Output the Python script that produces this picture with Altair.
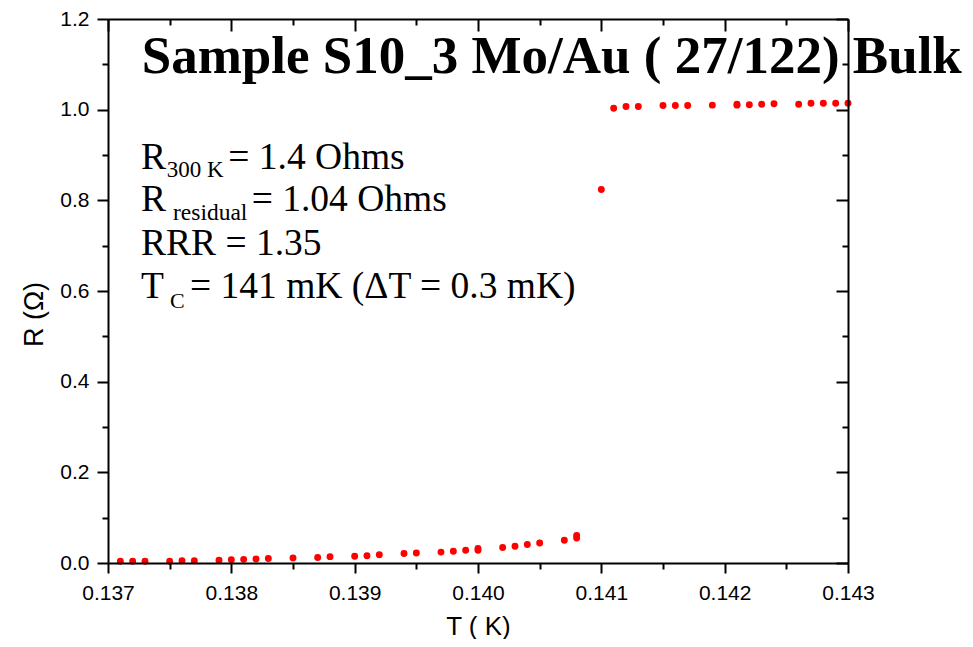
import altair as alt
import pandas as pd

# ---- data ----
T_K = [0.1371, 0.1372, 0.1373, 0.1375, 0.1376, 0.1377, 0.1379, 0.1380, 0.1381,
       0.1382, 0.1383, 0.1385, 0.1387, 0.1388, 0.1390, 0.1391, 0.1392, 0.1394,
       0.1395, 0.1397, 0.1398, 0.1399, 0.1400, 0.1400, 0.1402, 0.1403, 0.1404,
       0.1405, 0.1407, 0.1408, 0.1408, 0.1410, 0.1411, 0.1412, 0.1413, 0.1415,
       0.1416, 0.1417, 0.1419, 0.1421, 0.1421, 0.1422, 0.1423, 0.1424, 0.1426,
       0.1427, 0.1428, 0.1429, 0.1430]
R_OHM = [0.004, 0.004, 0.004, 0.004, 0.005, 0.005, 0.006, 0.007, 0.008,
         0.009, 0.010, 0.011, 0.012, 0.014, 0.015, 0.016, 0.018, 0.021,
         0.022, 0.024, 0.026, 0.028, 0.028, 0.032, 0.034, 0.037, 0.041,
         0.044, 0.050, 0.055, 0.061, 0.824, 1.003, 1.007, 1.007, 1.009,
         1.009, 1.009, 1.010, 1.010, 1.012, 1.011, 1.012, 1.013, 1.012,
         1.014, 1.014, 1.014, 1.014]

X_MAJOR = [0.137, 0.138, 0.139, 0.140, 0.141, 0.142, 0.143]
X_MINOR = [0.1375, 0.1385, 0.1395, 0.1405, 0.1415, 0.1425]
Y_MAJOR = [0.0, 0.2, 0.4, 0.6, 0.8, 1.0, 1.2]
Y_MINOR = [0.1, 0.3, 0.5, 0.7, 0.9, 1.1]

TITLE = "Sample S10_3 Mo/Au ( 27/122) Bulk"
ANNOT_TEXT = ["R", "300 K", "= 1.4 Ohms",
              "R", "residual", "= 1.04 Ohms",
              "RRR = 1.35",
              "T", "C", "= 141 mK (\u0394T = 0.3 mK)"]
ANNOT_X = [33, 58.7, 120.3, 33, 65, 143.7, 33, 33, 62, 82]
ANNOT_Y = [150.3, 157.7, 150.3, 191.7, 200.5, 191.7, 236, 279.3, 289, 279.3]
ANNOT_SIZE = [37.5, 23, 37.5, 37.5, 23.5, 37.5, 37.5, 37.5, 22, 37.5]

W, H = 740, 544
SANS = "Liberation Sans"
SERIF = "Liberation Serif"

df = pd.DataFrame({"T": T_K, "R": R_OHM})
xs = alt.Scale(domain=[0.137, 0.143], nice=False, zero=False)
ys = alt.Scale(domain=[0.0, 1.2], nice=False, zero=False)

common = dict(domainColor="black", domainWidth=2, tickColor="black", tickWidth=2,
              grid=False, zindex=1)


def axis_layer(xaxis, yaxis, visible=False):
    m = alt.Chart(df).mark_circle(size=48, color="#ff0000", opacity=1 if visible else 0)
    return m.encode(
        x=alt.X("T:Q", scale=xs, axis=xaxis),
        y=alt.Y("R:Q", scale=ys, axis=yaxis),
    )


x_main = alt.Axis(orient="bottom", values=X_MAJOR, format=".3f", tickSize=10,
                  labelFont=SANS, labelFontSize=21, labelPadding=9, labelColor="black",
                  labelFlush=False, labelOverlap=False,
                  title="T ( K)", titleFont=SANS, titleFontSize=26,
                  titleFontWeight="normal", titleColor="black",
                  titleY=71, titleBaseline="alphabetic", **common)
y_main = alt.Axis(orient="left", values=Y_MAJOR, format=".1f", tickSize=11,
                  labelFont=SANS, labelFontSize=21, labelPadding=8, labelColor="black",
                  labelFlush=False, labelOverlap=False,
                  title="R (\u03a9)", titleFont=SANS, titleFontSize=27,
                  titleFontWeight="normal", titleColor="black",
                  titleX=-66, titleY=295, titleAngle=270, titleAlign="center",
                  titleBaseline="alphabetic", **common)

x_minor_b = alt.Axis(orient="bottom", values=X_MINOR, tickSize=6, labels=False,
                     domain=False, title="", **common)
y_minor_l = alt.Axis(orient="left", values=Y_MINOR, tickSize=6, labels=False,
                     domain=False, title="", **common)

x_top_major = alt.Axis(orient="bottom", offset=-H, values=X_MAJOR, tickSize=12,
                       labels=False, title="", **common)
y_right_major = alt.Axis(orient="left", offset=-W, values=Y_MAJOR, tickSize=12,
                         labels=False, title="", **common)
x_top_minor = alt.Axis(orient="bottom", offset=-H, values=X_MINOR, tickSize=6,
                       labels=False, domain=False, title="", **common)
y_right_minor = alt.Axis(orient="left", offset=-W, values=Y_MINOR, tickSize=6,
                         labels=False, domain=False, title="", **common)

layers = [
    axis_layer(x_minor_b, y_minor_l),
    axis_layer(x_top_major, y_right_major),
    axis_layer(x_top_minor, y_right_minor),
    axis_layer(x_main, y_main, visible=True),
]

one = pd.DataFrame({"k": [0]})
layers.append(
    alt.Chart(one).mark_text(text=TITLE, font=SERIF, fontSize=53, fontWeight="bold",
                             align="left", baseline="alphabetic", color="black")
    .encode(x=alt.value(33.7), y=alt.value(53.5))
)
for txt, px, py, fs in zip(ANNOT_TEXT, ANNOT_X, ANNOT_Y, ANNOT_SIZE):
    layers.append(
        alt.Chart(one).mark_text(text=txt, font=SERIF, fontSize=fs, fontWeight="normal",
                                 align="left", baseline="alphabetic", color="black")
        .encode(x=alt.value(px), y=alt.value(py))
    )

chart = (
    alt.layer(*layers)
    .resolve_axis(x="independent", y="independent")
    .properties(
        width=W, height=H,
        autosize=alt.AutoSizeParams(type="none"),
        padding={"left": 100, "top": 11, "right": 115, "bottom": 76},
    )
    .configure_view(stroke=None)
    .configure(background="white")
)

chart.save("out.html", embed_options={"renderer": "svg", "actions": False})
